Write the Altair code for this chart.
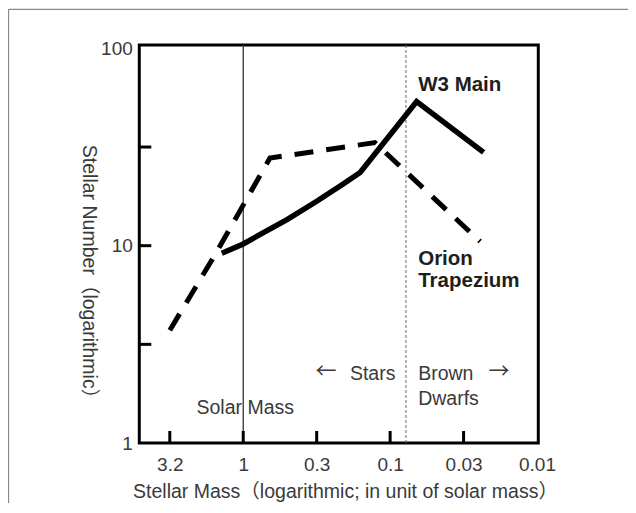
import altair as alt
import pandas as pd

# ---- data ----
w3_mass = [1.40, 1.0, 0.75, 0.50, 0.316, 0.21, 0.16, 0.066, 0.0231]
w3_num = [9.15, 10.2, 11.5, 13.6, 16.8, 20.5, 23.5, 53.8, 29.7]
orion_mass = [3.16, 1.56, 0.658, 0.127, 0.0244]
orion_num = [3.73, 8.97, 27.8, 33.3, 10.5]

solar_mass = [1.0]
bd_limit = [0.078]

x_tick_values = [3.162, 1, 0.3162, 0.1, 0.03162, 0.01]
x_tick_labels = ["3.2", "1", "0.3", "0.1", "0.03", "0.01"]
x_minor_ticks = [3.162, 1, 0.3162, 0.1, 0.03162]
y_label_values = [1, 10, 100]
y_minor_ticks = [3.162, 10, 31.62]

bold_text = ["W3 Main", "Orion", "Trapezium"]
bold_mass = [0.0644, 0.0644, 0.0644]
bold_num = [60.5, 7.98, 6.19]

note_text = ["Solar Mass", "Stars", "Brown", "Dwarfs"]
note_mass = [2.08, 0.1878, 0.0644, 0.0644]
note_num = [1.41, 2.08, 2.08, 1.55]

arrow_text = ["\u2190", "\u2192"]
arrow_mass = [0.2735, 0.01816]
arrow_num = [2.28, 2.28]

FONT = "Liberation Sans, Noto Sans CJK JP"
TXT = "#3a3a3a"
W, H = 399, 398

# ---- frames ----
w3 = pd.DataFrame({"mass": w3_mass, "num": w3_num})
orion = pd.DataFrame({"mass": orion_mass, "num": orion_num})
solar = pd.DataFrame({"mass": solar_mass})
bd = pd.DataFrame({"mass": bd_limit})
xt = pd.DataFrame({"mass": x_minor_ticks})
yt = pd.DataFrame({"num": y_minor_ticks})
bold_df = pd.DataFrame({"t": bold_text, "mass": bold_mass, "num": bold_num})
note_df = pd.DataFrame({"t": note_text, "mass": note_mass, "num": note_num})
arrow_df = pd.DataFrame({"t": arrow_text, "mass": arrow_mass, "num": arrow_num})

xscale = alt.Scale(type="log", domain=[0.0098, 5.1], reverse=True)
yscale = alt.Scale(type="log", domain=[1, 104])

expr = "''"
for v, l in reversed(list(zip(x_tick_values, x_tick_labels))):
    expr = f"abs(log(datum.value)-log({v}))<0.01 ? '{l}' : " + expr

x_axis = alt.Axis(
    values=x_tick_values, labelExpr=expr, ticks=False, domain=False, grid=False,
    labelPadding=12, labelFontSize=19, labelColor=TXT, labelFont=FONT,
    labelFlush=False, labelOverlap=False,
    title="Stellar Mass\uff08logarithmic; in unit of solar mass\uff09",
    titleFont=FONT, titleFontSize=19.5, titleFontWeight="normal", titleColor=TXT,
    titleX=205.7, titleY=48, titleBaseline="middle", titleAlign="center",
)
y_axis = alt.Axis(
    values=y_label_values, format="d", ticks=False, domain=False, grid=False,
    labelPadding=7, labelFontSize=19, labelColor=TXT, labelFont=FONT,
    labelFlush=False, labelOverlap=False,
    title="Stellar Number\uff08logarithmic\uff09",
    titleFont=FONT, titleFontSize=19.5, titleFontWeight="normal", titleColor=TXT,
    titleAngle=90, titleX=-51.3, titleY=231, titleBaseline="middle", titleAlign="center",
)

X = lambda: alt.X("mass:Q", scale=xscale, axis=x_axis)
Y = lambda: alt.Y("num:Q", scale=yscale, axis=y_axis)

w3_line = alt.Chart(w3).mark_line(color="black", strokeWidth=5.5, strokeJoin="miter").encode(
    x=X(), y=Y(), order="mass:Q",
)
orion_line = alt.Chart(orion).mark_line(
    color="black", strokeWidth=5, strokeDash=[19, 13], strokeCap="butt"
).encode(x=X(), y=Y())

solar_rule = alt.Chart(solar).mark_rule(color="#333333", strokeWidth=1.3).encode(x=X())
bd_rule = alt.Chart(bd).mark_rule(color="#666666", strokeWidth=1, strokeDash=[3, 2]).encode(x=X())

x_ticks = alt.Chart(xt).mark_rule(color="black", strokeWidth=3).encode(
    x=X(), y=alt.value(H), y2=alt.value(H - 12)
)
y_ticks = alt.Chart(yt).mark_rule(color="black", strokeWidth=3).encode(
    y=Y(), x=alt.value(0), x2=alt.value(12)
)

bold_labels = alt.Chart(bold_df).mark_text(
    align="left", baseline="alphabetic", font=FONT, fontSize=20.5, fontWeight="bold", color="#1e1e1e"
).encode(x=X(), y=Y(), text="t:N")
notes = alt.Chart(note_df).mark_text(
    align="left", baseline="alphabetic", font=FONT, fontSize=19.5, color=TXT
).encode(x=X(), y=Y(), text="t:N")
arrows = alt.Chart(arrow_df).mark_text(
    align="center", baseline="middle", font="Noto Sans CJK JP", fontSize=21, color=TXT
).encode(x=X(), y=Y(), text="t:N")

# outer page frame (decoration)
top_border = alt.Chart(solar).mark_rule(color="#8a8a8a", strokeWidth=1.3).encode(
    x=alt.value(-130.8), x2=alt.value(W + 120), y=alt.value(-35.7)
)
left_border = alt.Chart(solar).mark_rule(color="#8a8a8a", strokeWidth=1.3).encode(
    x=alt.value(-130.8), y=alt.value(-35.7), y2=alt.value(H + 120)
)

chart = alt.layer(
    top_border, left_border, solar_rule, bd_rule, orion_line, w3_line,
    x_ticks, y_ticks, bold_labels, notes, arrows,
).properties(
    width=W, height=H,
    autosize=alt.AutoSizeParams(type="none"),
    padding={"left": 131.3, "top": 37, "right": 89.7, "bottom": 60},
    background="white",
).configure_view(stroke="black", strokeWidth=3)

chart.save("out.html", embed_options={"renderer": "svg", "actions": False})
